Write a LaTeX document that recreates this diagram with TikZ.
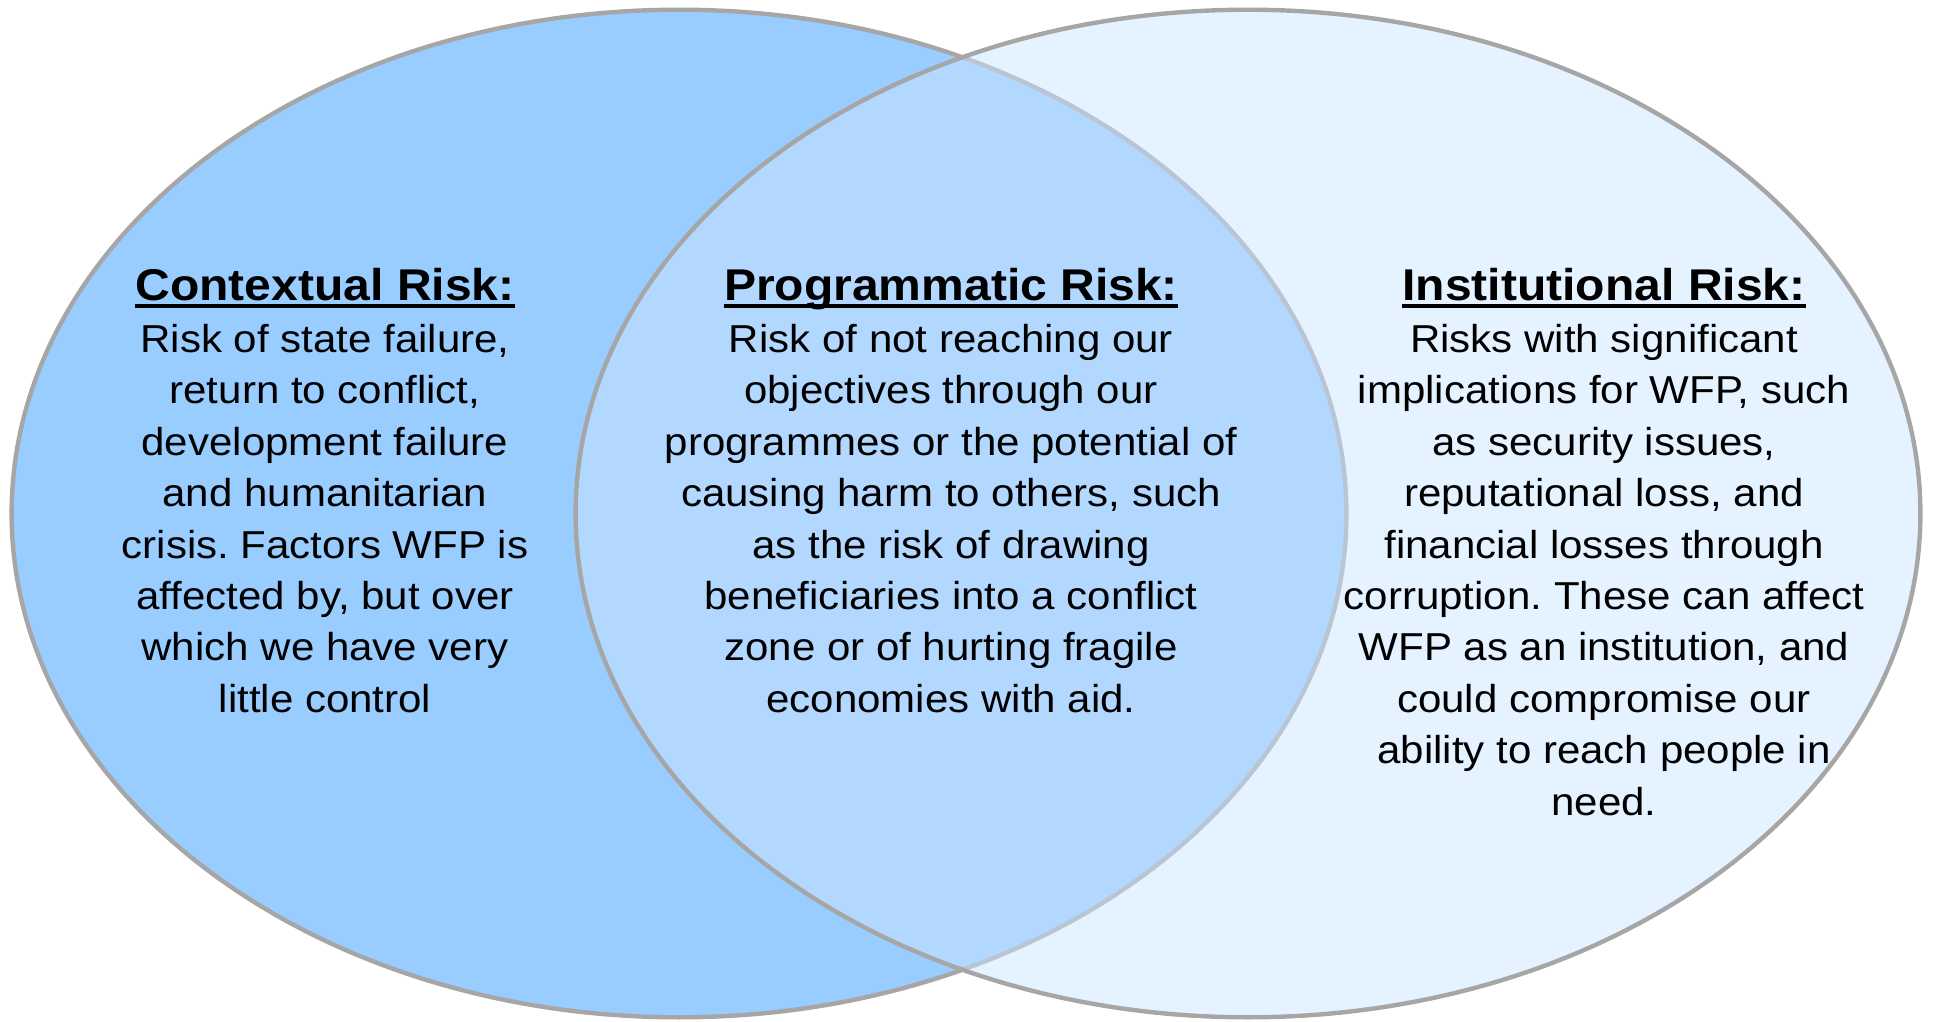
\documentclass[tikz,border=0pt]{standalone}
\usepackage{fontspec}
\setmainfont[FakeStretch=1.08]{Liberation Sans}
\frenchspacing

\definecolor{leftblue}{HTML}{99CCFF}
\definecolor{rightblue}{HTML}{CCE5FF}
\definecolor{rimgray}{HTML}{A6A6A6}

% bold heading with a flat underline below the baseline
\newcommand\riskhead[1]{{\fontsize{12.65}{14.6}\selectfont\bfseries
  \setbox0\hbox{#1}\rlap{\rule[-2.07pt]{\wd0}{1.13pt}}\box0}}

\begin{document}
\begin{tikzpicture}[x=0.01cm, y=-0.01cm,
    rim/.style = {
      draw = rimgray,
      line width = 1.25pt
    },
    risktext/.style = {
      align = center,
      anchor = north,
      inner sep = 0pt,
      font = \fontsize{11.07}{14.62}\selectfont
    }
  ]
  \useasboundingbox (0,0) rectangle (1933,1021);

  \coordinate (L) at (679,513.5);
  \coordinate (R) at (1248,513.5);

  \path[fill=leftblue,rim] (L) ellipse [x radius=6.67cm, y radius=5.035cm];
  \path[fill=rightblue,fill opacity=0.5,rim] (R) ellipse [x radius=6.72cm, y radius=5.035cm];

  \node[risktext] (contextual) at (325,268) {\riskhead{Contextual Risk:}\\
    Risk of state failure,\\
    return to conflict,\\
    development failure\\
    and humanitarian\\
    crisis. Factors WFP is\\
    affected by, but over\\
    which we have very\\
    little control};

  \node[risktext] (programmatic) at (951,268) {\riskhead{Programmatic Risk:}\\
    Risk of not reaching our\\
    objectives through our\\
    programmes or the potential of\\
    causing harm to others, such\\
    as the risk of drawing\\
    beneficiaries into a conflict\\
    zone or of hurting fragile\\
    economies with aid.};

  \node[risktext] (institutional) at (1604,268) {\riskhead{Institutional Risk:}\\
    Risks with significant\\
    implications for WFP, such\\
    as security issues,\\
    reputational loss, and\\
    financial losses through\\
    corruption. These can affect\\
    WFP as an institution, and\\
    could compromise our\\
    ability to reach people in\\
    need.};
\end{tikzpicture}
\end{document}
